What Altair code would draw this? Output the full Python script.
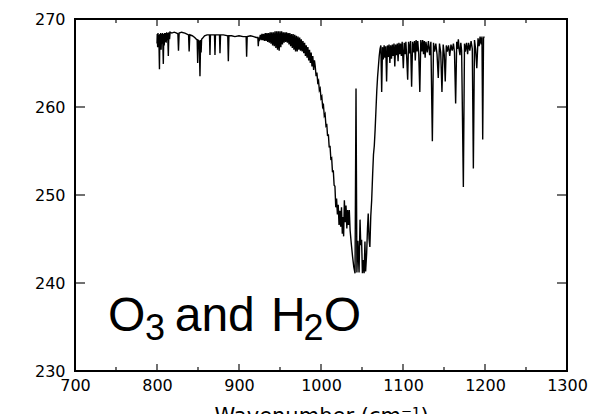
import altair as alt
import pandas as pd

# ---------------- data ----------------
x_ticks = [700, 800, 900, 1000, 1100, 1200, 1300]
x_minor = [750, 850, 950, 1050, 1150, 1250]
y_ticks = [230, 240, 250, 260, 270]
x_dom = [700, 1300]
y_dom = [230, 270]

# 800 - 924 : weak water lines on flat continuum
wn_a = [800.0, 800.3, 800.8, 801.2, 801.7, 802.2, 803.0, 803.5, 804.0, 804.5,
        805.0, 805.6, 806.2, 806.8, 807.7, 808.3, 808.8, 809.4, 810.0, 810.6,
        811.2, 811.8, 812.4, 813.0, 813.8, 814.5, 815.3, 816.0, 818.0, 821.0,
        824.0, 825.5, 826.2, 827.0, 830.0, 834.0, 838.5, 839.2, 840.0, 843.0,
        846.0, 848.0, 849.0, 849.6, 850.2, 851.5, 852.4, 853.2, 853.8, 854.4,
        855.5, 858.0, 861.0, 864.0, 864.6, 865.2, 867.0, 870.1, 870.7, 871.3,
        874.0, 876.2, 876.8, 877.5, 881.0, 886.3, 887.0, 887.7, 891.0, 895.0,
        900.0, 905.0, 908.7, 909.3, 910.0, 914.0, 918.0, 921.0, 923.0, 923.5]
rad_a = [267.2, 268.3, 266.8, 268.4, 267.0, 268.2, 264.3, 268.3, 266.9, 268.4,
         266.5, 268.3, 267.2, 268.4, 264.9, 268.3, 267.0, 268.4, 267.4, 268.4,
         267.3, 268.5, 267.6, 268.4, 265.8, 268.5, 267.7, 268.5, 268.4, 268.5,
         268.4, 268.3, 266.4, 268.4, 268.5, 268.4, 268.2, 266.3, 268.2, 268.1,
         267.9, 267.7, 267.6, 265.0, 267.6, 267.5, 263.5, 267.6, 266.2, 267.7,
         267.8, 268.1, 268.2, 268.2, 265.9, 268.2, 268.2, 268.2, 265.9, 268.2,
         268.2, 268.2, 266.1, 268.2, 268.2, 268.1, 265.2, 268.1, 268.1, 268.0,
         268.1, 268.0, 268.0, 265.7, 268.0, 268.1, 268.0, 267.9, 267.9, 266.9]

# 924 - 992 : dense ozone band wing
wn_b = [924.2, 925, 926, 927, 928, 929, 930, 931, 932, 933, 934, 935, 936, 937,
        938, 939, 940, 941, 942, 943, 944, 945, 946, 947, 948, 949, 950, 951,
        952, 953, 954, 955, 956, 957, 958, 959, 960, 961, 962, 963, 964, 965,
        966, 967, 968, 969, 970, 971, 972, 973, 974, 975, 976, 977, 978, 979,
        980, 981, 982, 983, 984, 985, 986, 987, 988, 989, 990, 991, 992]
rad_b = [267.9, 267.7, 268.2, 267.6, 268.3, 267.6, 268.3, 267.5, 268.4, 267.5,
         268.4, 267.4, 268.4, 267.3, 268.5, 267.2, 268.5, 267.0, 268.5, 266.9,
         268.6, 266.7, 268.6, 266.5, 268.6, 266.4, 268.6, 266.8, 268.6, 267.1,
         268.5, 267.3, 268.5, 267.4, 268.5, 267.3, 268.4, 267.1, 268.4, 266.9,
         268.3, 266.7, 268.3, 266.5, 268.2, 266.3, 268.1, 266.3, 268.0, 266.5,
         267.9, 266.4, 267.7, 266.3, 267.5, 266.1, 267.3, 265.8, 267.0, 265.6,
         266.8, 265.3, 266.5, 265.0, 266.2, 264.6, 265.8, 264.2, 265.3]

# 993 - 1017 : steep descent into the 9.6 um band
wn_c = [993, 994, 995, 996, 997, 998, 999, 1000, 1001, 1002, 1003, 1004, 1005,
        1006, 1007, 1008, 1009, 1010, 1011, 1012, 1013, 1014, 1015, 1016, 1017]
rad_c = [264.6, 263.5, 263.9, 262.8, 263.0, 261.9, 262.1, 261.0, 261.2, 260.0,
         260.2, 259.0, 259.2, 257.9, 258.1, 256.7, 256.9, 255.4, 255.6, 254.1,
         254.2, 252.6, 252.8, 251.1, 251.0]

# 1018 - 1072 : band centre
wn_d = [1018, 1019, 1020, 1021, 1022, 1023, 1024, 1025, 1026, 1027, 1027.6,
        1028.5, 1029.5, 1030.5, 1031.5, 1032.5, 1033.5, 1034.5, 1035.5, 1037.0,
        1038.5, 1040.0, 1041.5, 1042.7, 1043.8, 1045.0, 1046.4, 1047.6, 1048.5,
        1049.5, 1050.5, 1051.6, 1052.6, 1053.6, 1054.4, 1055.7, 1056.7, 1057.6,
        1058.6, 1059.6, 1060.7, 1061.8, 1063, 1064, 1065, 1066, 1067, 1068,
        1069, 1070, 1071, 1072]
rad_d = [248.6, 249.6, 247.8, 248.9, 246.6, 248.2, 246.4, 248.6, 245.6, 247.5,
         245.3, 249.4, 246.9, 248.8, 246.2, 248.3, 246.6, 248.3, 246.0, 244.4,
         243.0, 241.8, 241.1, 262.1, 241.2, 244.8, 241.2, 247.2, 244.3, 244.9,
         241.1, 242.6, 241.1, 244.7, 241.3, 243.4, 246.2, 247.9, 245.0, 244.1,
         247.6, 249.4, 252.4, 254.6, 255.6, 257.4, 259.6, 261.8, 263.4, 264.6,
         265.8, 266.6]

# 1073 - 1199 : upper wing with water lines
wn_e = [1073.0, 1074.0, 1075.0, 1076.0, 1077.0, 1078.0, 1079.0, 1080.0, 1081.0,
        1082.0, 1083.0, 1084.0, 1085.0, 1086.0, 1087.0, 1088.0, 1089.0, 1090.0,
        1091.0, 1092.0, 1093.0, 1094.0, 1095.0, 1096.0, 1097.0, 1098.0, 1099.0,
        1100.4, 1101.5, 1102.5, 1103.5, 1104.5, 1105.7, 1106.8, 1108.0, 1109.2,
        1110.5, 1111.7, 1113.0, 1114.0, 1115.0, 1116.0, 1117.0, 1118.0, 1119.2,
        1120.5, 1121.7, 1123.0, 1124.0, 1125.0, 1126.0, 1127.0, 1128.0, 1129.5,
        1131.0, 1132.5, 1134.0, 1135.8, 1137.2, 1138.5, 1140.0, 1141.5, 1143.0,
        1144.5, 1146.0, 1147.5, 1149.0, 1150.3, 1151.5, 1152.8, 1154.0, 1155.5,
        1157.0, 1158.5, 1160.0, 1161.5, 1162.8, 1164.2, 1165.5, 1166.5, 1167.5,
        1168.5, 1169.5, 1170.5, 1171.5, 1173.6, 1175.0, 1176.0, 1177.5, 1178.8,
        1180.0, 1181.5, 1183.0, 1184.5, 1185.8, 1187.2, 1188.5, 1190.0, 1191.5,
        1192.8, 1194.0, 1195.3, 1196.3, 1197.2, 1198.2, 1199.0]
rad_e = [267.0, 261.7, 266.8, 265.4, 267.0, 265.6, 266.9, 262.9, 267.0,
         265.7, 267.1, 265.0, 267.0, 265.5, 267.1, 265.8, 267.2, 264.6,
         267.1, 265.9, 267.2, 265.2, 267.3, 266.0, 267.2, 265.8, 267.4,
         264.4, 267.3, 266.0, 267.4, 265.7, 263.1, 267.4, 266.1, 267.5,
         262.3, 267.4, 266.2, 267.5, 265.3, 267.6, 266.3, 267.5, 266.0,
         261.7, 267.6, 266.3, 267.6, 266.0, 267.5, 265.6, 267.4, 266.2,
         267.5, 265.9, 267.4, 256.1, 267.3, 266.3, 267.2, 266.0, 263.3,
         267.2, 266.2, 261.7, 267.1, 266.0, 262.9, 267.0, 266.3, 267.0,
         265.8, 267.1, 266.4, 267.2, 266.2, 260.4, 267.4, 266.6, 267.7,
         266.5, 265.9, 267.3, 266.4, 250.9, 267.2, 266.3, 267.3, 266.0,
         267.3, 266.4, 267.5, 266.6, 253.0, 267.6, 266.6, 264.4, 267.8,
         266.9, 268.0, 267.1, 268.0, 256.3, 267.8, 268.0]

# annotation text pieces (data coordinates)
label_main = ["O", "and", "H", "O"]
label_main_x = [740.2, 821.6, 939.0, 1003.5]
label_main_y = 234.55
label_sub = ["3", "2"]
label_sub_x = [785.4, 978.6]
label_sub_y = 233.5

# ---------------- build tables ----------------
wn, rad = [], []
for w, r in [(wn_a, rad_a), (wn_b, rad_b), (wn_c, rad_c), (wn_d, rad_d), (wn_e, rad_e)]:
    wn += w
    rad += r
spec = pd.DataFrame({"wn": wn, "rad": rad, "i": list(range(len(wn)))})

xscale = alt.Scale(domain=x_dom, nice=False, zero=False)
yscale = alt.Scale(domain=y_dom, nice=False, zero=False)

FONT = "DejaVu Sans"

line = alt.Chart(spec).mark_line(color="black", strokeWidth=1.4, clip=True).encode(
    x=alt.X("wn:Q", scale=xscale,
            axis=alt.Axis(values=x_ticks, format="d", ticks=False, domain=False, grid=False,
                          labelFont=FONT, labelFontSize=16, labelColor="black",
                          labelPadding=6, labelOverlap=False, labelBound=False, labelFlush=False,
                          title="Wavenumber (cm⁻¹)", titleFont=FONT, titleFontSize=21,
                          titleFontWeight="normal", titleColor="black", titlePadding=12)),
    y=alt.Y("rad:Q", scale=yscale,
            axis=alt.Axis(values=y_ticks, format="d", ticks=False, domain=False, grid=False,
                          labelFont=FONT, labelFontSize=16, labelColor="black",
                          labelPadding=10, labelOverlap=False, labelBound=False, labelFlush=False,
                          title=None)),
    order="i:Q",
)

# inward tick marks on all four sides
xmaj = pd.DataFrame([{"v": v, "pos": p} for v in x_ticks[1:-1] for p in y_dom])
xmin = pd.DataFrame([{"v": v, "pos": p} for v in x_minor for p in y_dom])
ymaj = pd.DataFrame([{"v": v, "pos": p} for v in y_ticks[1:-1] for p in x_dom])

tick_xmaj = alt.Chart(xmaj).mark_tick(orient="vertical", size=14, thickness=1.6,
                                       color="black", clip=True).encode(
    x=alt.X("v:Q", scale=xscale, axis=None),
    y=alt.Y("pos:Q", scale=yscale, axis=None))
tick_xmin = alt.Chart(xmin).mark_tick(orient="vertical", size=8, thickness=1.6,
                                       color="black", clip=True).encode(
    x=alt.X("v:Q", scale=xscale, axis=None),
    y=alt.Y("pos:Q", scale=yscale, axis=None))
tick_ymaj = alt.Chart(ymaj).mark_tick(orient="horizontal", size=20, thickness=1.6,
                                       color="black", clip=True).encode(
    y=alt.Y("v:Q", scale=yscale, axis=None),
    x=alt.X("pos:Q", scale=xscale, axis=None))

main_df = pd.DataFrame({"t": label_main, "x": label_main_x, "y": [label_main_y] * len(label_main)})
sub_df = pd.DataFrame({"t": label_sub, "x": label_sub_x, "y": [label_sub_y] * len(label_sub)})

txt_main = alt.Chart(main_df).mark_text(font="Liberation Sans", fontSize=48, align="left",
                                        baseline="alphabetic", color="black").encode(
    x=alt.X("x:Q", scale=xscale, axis=None),
    y=alt.Y("y:Q", scale=yscale, axis=None),
    text="t:N")
txt_sub = alt.Chart(sub_df).mark_text(font="Liberation Sans", fontSize=36, align="left",
                                      baseline="alphabetic", color="black").encode(
    x=alt.X("x:Q", scale=xscale, axis=None),
    y=alt.Y("y:Q", scale=yscale, axis=None),
    text="t:N")

chart = alt.layer(line, tick_xmaj, tick_xmin, tick_ymaj, txt_main, txt_sub).resolve_axis(
    x="independent", y="independent"
).properties(
    width=492, height=352,
    autosize=alt.AutoSizeParams(type="none"),
    padding={"left": 75, "top": 19, "right": 23, "bottom": 43},
    background="white",
).configure_view(stroke="black", strokeWidth=2)

chart.save("out.html", embed_options={"renderer": "svg", "actions": False})
